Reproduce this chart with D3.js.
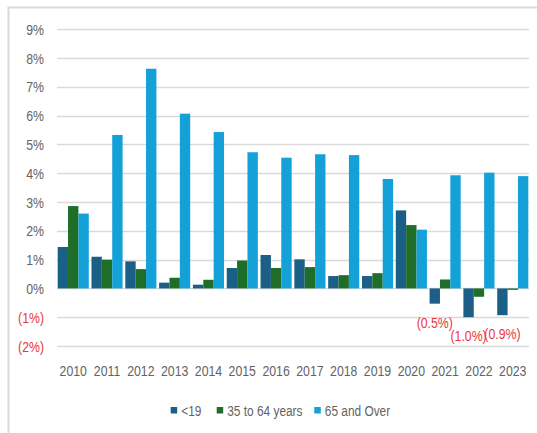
<!DOCTYPE html>
<html><head><meta charset="utf-8">
<script src="https://cdn.jsdelivr.net/npm/d3@7"></script>
<style>
html,body{margin:0;padding:0;background:#fff;}
svg text{font-family:"Liberation Sans",Arial,sans-serif;}
</style></head>
<body>
<svg id="chart" width="537" height="433"></svg>
<script>
const years = ["2010","2011","2012","2013","2014","2015","2016","2017","2018","2019","2020","2021","2022","2023"];
const under19 = [1.44,1.10,0.94,0.20,0.13,0.71,1.16,1.01,0.43,0.43,2.71,-0.53,-1.00,-0.93];
const age35to64 = [2.86,1.00,0.67,0.37,0.30,0.97,0.71,0.74,0.46,0.53,2.20,0.31,-0.29,-0.05];
const age65over = [2.60,5.33,7.63,6.07,5.43,4.73,4.54,4.66,4.63,3.80,2.04,3.93,4.02,3.90];
const seriesNames = ["<19","35 to 64 years","65 and Over"];
const seriesColors = ["#1c5f86","#1e6e29","#13a1d7"];
const yTicks = [-2,-1,0,1,2,3,4,5,6,7,8,9];

const series = [under19, age35to64, age65over];
const svg = d3.select("#chart");
const NARROW = 0.82; // emulate a narrow sans face
const place = (px,py)=>`translate(${px},${py}) scale(${NARROW},1)`;

// frame
svg.append("path").attr("d","M8.5,433 V7.5 H537").attr("fill","none").attr("stroke","#d9d9d9").attr("stroke-width",2);

const y = d3.scaleLinear().domain([-2,9]).range([346,29.3]);
const x = d3.scaleBand().domain(years).range([57,529]).paddingInner(0.08).paddingOuter(0.02);
const xs = d3.scaleBand().domain(d3.range(series.length)).range([0,x.bandwidth()]);

// gridlines
svg.append("g").selectAll("line").data(yTicks).join("line")
  .attr("x1",57).attr("x2",529)
  .attr("y1",d=>Math.round(y(d))+0.5).attr("y2",d=>Math.round(y(d))+0.5)
  .attr("stroke","#d9d9d9").attr("stroke-width",1.5);

// y tick labels
svg.append("g").selectAll("text").data(yTicks).join("text")
  .attr("transform",d=>place(44,y(d)+5.5))
  .attr("text-anchor","end").attr("font-size",15)
  .attr("fill",d=>d<0?"#e8373c":"#636363")
  .text(d=>d<0?`(${Math.abs(d)}%)`:`${d}%`);

// bars
series.forEach((vals,si)=>{
  svg.append("g").selectAll("rect").data(vals).join("rect")
    .attr("x",(d,i)=>x(years[i])+xs(si))
    .attr("width",xs.bandwidth())
    .attr("y",d=>y(Math.max(0,d)))
    .attr("height",d=>Math.abs(y(d)-y(0)))
    .attr("fill",seriesColors[si]);
});

// negative data labels for <19
const negLabels = under19.map((v,i)=>({v,i})).filter(d=>d.v<0);
svg.append("g").selectAll("text").data(negLabels).join("text")
  .attr("transform",d=>place(Math.min(x(years[d.i])+xs(0)+xs.bandwidth()/2, 510), y(d.v)+24))
  .attr("text-anchor","middle").attr("font-size",15).attr("fill","#e8373c")
  .text(d=>`(${Math.abs(d.v).toFixed(1)}%)`);

// x labels
svg.append("g").selectAll("text").data(years).join("text")
  .attr("transform",d=>place(x(d)+x.bandwidth()/2,376))
  .attr("text-anchor","middle").attr("font-size",15).attr("fill","#636363")
  .text(d=>d);

// legend
const legendX = [170.7,216.7,314.3];
const lg = svg.append("g").selectAll("g").data(seriesNames).join("g")
  .attr("transform",(d,i)=>`translate(${legendX[i]},0)`);
lg.append("rect").attr("x",0).attr("y",407).attr("width",6.5).attr("height",6.5)
  .attr("fill",(d,i)=>seriesColors[i]);
lg.append("text").attr("transform",place(10.5,415.5)).attr("font-size",14.5).attr("fill","#636363")
  .text(d=>d);
</script>
</body></html>
